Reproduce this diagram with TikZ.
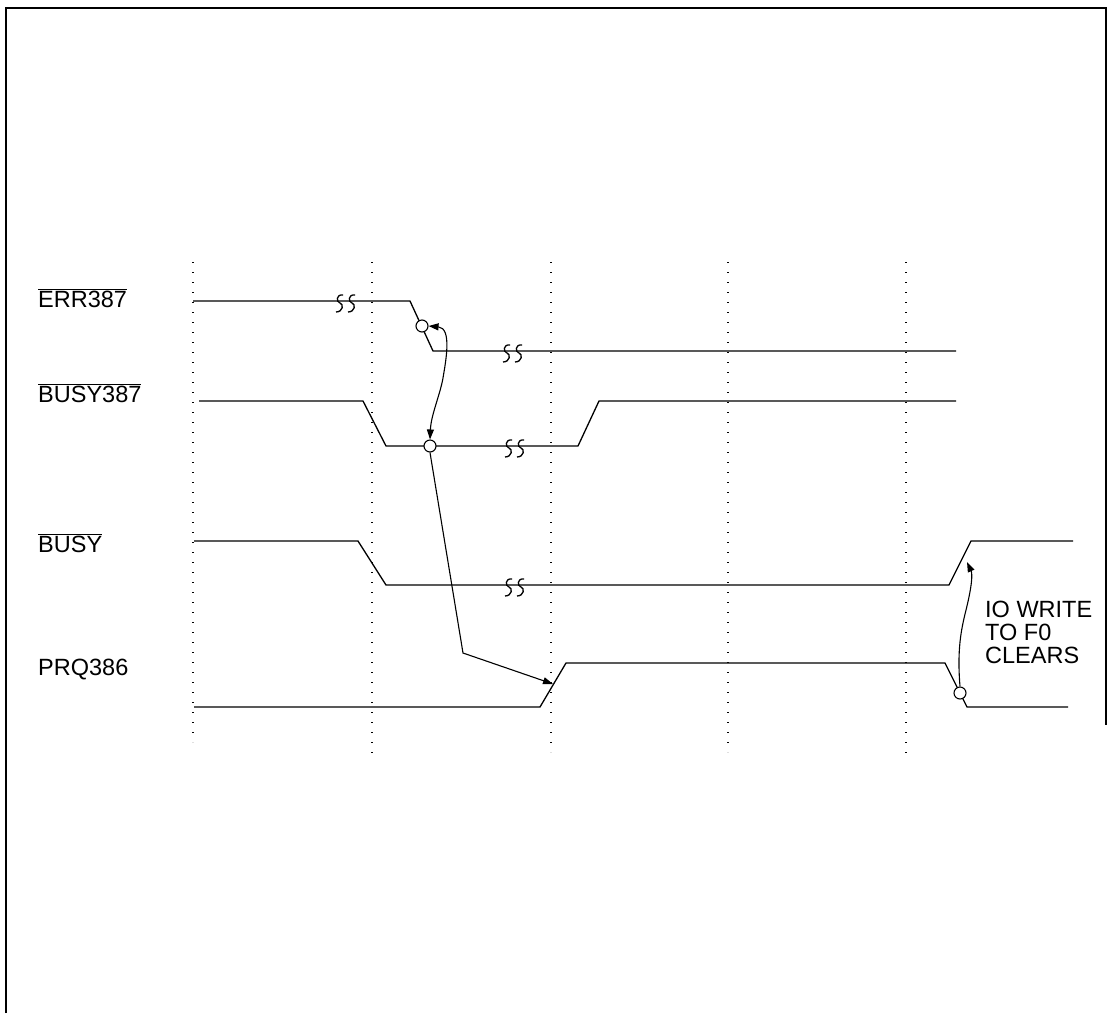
\documentclass[tikz,border=0pt]{standalone}
\usepackage{fontspec}
\setmainfont{Liberation Sans}
\usetikzlibrary{arrows.meta}

\tikzset{
  wave/.style={line width=1.3pt},
  tgrid/.style={line width=1.5pt, dash pattern=on 1.3pt off 8.7pt},
  edgedot/.style={circle, draw, fill=white, inner sep=0pt, minimum size=12pt, line width=1.1pt},
  cause/.style={line width=1.1pt, -{Triangle[length=10pt,width=7pt]}},
  sig/.style={anchor=base west, inner sep=0pt, font=\fontsize{23.5}{24}\selectfont},
}
% break mark (two S curves) on a level line
\newcommand{\brk}[2]{%
  \foreach \dx in {-6,6}
    \draw[wave] (#1+\dx+3,#2-6) .. controls (#1+\dx-4,#2-7) and (#1+\dx-4,#2+1) .. (#1+\dx,#2+2)
      .. controls (#1+\dx+4,#2+3) and (#1+\dx+3,#2+11) .. (#1+\dx-4,#2+11);
}
\newcommand{\ovl}[1]{$\overline{\hbox{#1}}$}

\begin{document}
\begin{tikzpicture}[x=1pt,y=-1pt]
  \useasboundingbox (0,0) rectangle (1108,1013);

  % frame
  \draw[line width=1.4pt] (6,1013) -- (6,8) -- (1106,8) -- (1106,725);

  % time grid
  \foreach \t/\e in {193/742,372/760,551/752,728/752,906/760}
    \draw[tgrid] (\t,262) -- (\t,\e);

  % signal names
  \node[sig] (lerr) at (38,307) {\ovl{ERR387}};
  \node[sig] (lbusyc) at (38,402) {\ovl{BUSY387}};
  \node[sig] (lbusy) at (38,552) {\ovl{BUSY}};
  \node[sig] (lprq) at (38,675) {PRQ386};

  % waveforms
  \draw[wave] (193,301) -- (410,301) -- (433,351) -- (956,351);
  \draw[wave] (199,401) -- (363,401) -- (386,446) -- (578,446) -- (599,401) -- (956,401);
  \draw[wave] (194,541) -- (358,541) -- (386,585) -- (949,585) -- (971,541) -- (1073,541);
  \draw[wave] (194,707) -- (540,707) -- (566,663) -- (945,663) -- (967,707) -- (1068,707);

  % breaks
  \brk{346}{301}
  \brk{513}{351}
  \brk{515}{446}
  \brk{515}{585}

  % edge markers
  \node[edgedot] (cerr) at (422,326) {};
  \node[edgedot] (cbusyc) at (430,446) {};
  \node[edgedot] (cprq) at (960,693) {};
  \coordinate (bend) at (463,653);
  \coordinate (prqup) at (553,684);
  \coordinate (busyup) at (967,562);

  % causes
  \draw[cause, {Triangle[length=10pt,width=7pt]}-{Triangle[length=10pt,width=7pt]}]
    (cbusyc.north) .. controls (431,415) and (440,395) .. (443,378)
    .. controls (446,360) and (452,328) .. (cerr.east);
  \draw[cause] (cbusyc.south) -- (bend) -- (prqup);
  \draw[cause] (cprq.north) .. controls (957,650) and (961,630) .. (966,610)
    .. controls (971,590) and (973,575) .. (busyup);

  % note
  \node[anchor=north west, align=left, inner sep=0pt, font=\fontsize{23.5}{23}\selectfont]
    (note) at (985,601) {IO WRITE\\TO F0\\CLEARS};
\end{tikzpicture}
\end{document}
